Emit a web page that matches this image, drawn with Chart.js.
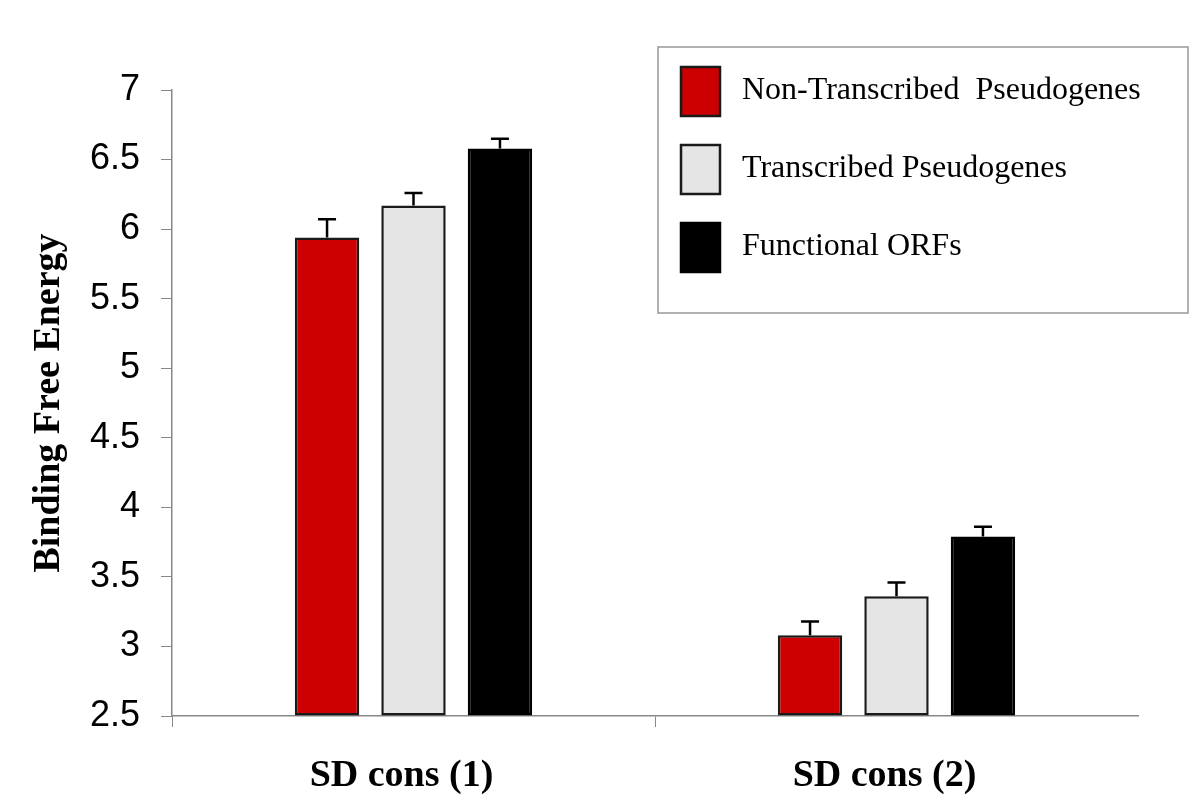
<!DOCTYPE html>
<html>
<head>
    <meta charset="UTF-8">
    <title>Binding Free Energy</title>
    <script src="https://cdn.jsdelivr.net/npm/chart.js"></script>
    <style>
        body { margin: 0; background: #fff; }
        #wrap { width: 1200px; height: 808px; }
    </style>
</head>
<body>
<div id="wrap">
    <canvas id="energyChart" width="1200" height="808"></canvas>
</div>

<script>
    // Datos
    const categories = ['SD cons (1)', 'SD cons (2)'];
    const seriesLabels = ['Non-Transcribed  Pseudogenes', 'Transcribed Pseudogenes', 'Functional ORFs'];
    const nonTranscribed = [5.94, 3.08];
    const transcribed = [6.17, 3.36];
    const functionalOrfs = [6.58, 3.79];
    // error bars (upper half only)
    const nonTranscribedErr = [0.13, 0.10];
    const transcribedErr = [0.09, 0.10];
    const functionalOrfsErr = [0.07, 0.07];
    const yMin = 2.5, yMax = 7, yStep = 0.5;

    const errors = [nonTranscribedErr, transcribedErr, functionalOrfsErr];

    // draws the upper error whiskers on top of each bar
    const errorBars = {
        id: 'errorBars',
        afterDatasetsDraw(chart) {
            const ctx = chart.ctx;
            const y = chart.scales.y;
            ctx.save();
            ctx.strokeStyle = '#000';
            ctx.lineWidth = 2.5;
            chart.data.datasets.forEach((ds, i) => {
                chart.getDatasetMeta(i).data.forEach((bar, j) => {
                    const top = y.getPixelForValue(ds.data[j] + errors[i][j]);
                    ctx.beginPath();
                    ctx.moveTo(bar.x, bar.y);
                    ctx.lineTo(bar.x, top);
                    ctx.moveTo(bar.x - 9, top);
                    ctx.lineTo(bar.x + 9, top);
                    ctx.stroke();
                });
            });
            ctx.restore();
        }
    };

    // legend in a framed box, top right
    const boxLegend = {
        id: 'boxLegend',
        afterDraw(chart) {
            const ctx = chart.ctx;
            ctx.save();
            ctx.strokeStyle = '#999';
            ctx.lineWidth = 1.5;
            ctx.strokeRect(658, 47, 530, 266);
            ctx.font = '32px "Liberation Serif", "Times New Roman", serif';
            ctx.textBaseline = 'middle';
            chart.data.datasets.forEach((ds, i) => {
                const top = 67 + i * 78;
                ctx.fillStyle = ds.backgroundColor;
                ctx.fillRect(681, top, 39, 49);
                ctx.strokeStyle = ds.borderColor;
                ctx.lineWidth = 2.5;
                ctx.strokeRect(681, top, 39, 49);
                ctx.fillStyle = '#000';
                ctx.fillText(ds.label, 742, top + 24);
            });
            ctx.restore();
        }
    };

    const ctx = document.getElementById('energyChart').getContext('2d');
    new Chart(ctx, {
        type: 'bar',
        data: {
            labels: categories,
            datasets: [
                { label: seriesLabels[0], data: nonTranscribed, backgroundColor: '#CC0000', borderColor: '#1a1a1a' },
                { label: seriesLabels[1], data: transcribed, backgroundColor: '#E5E5E5', borderColor: '#1a1a1a' },
                { label: seriesLabels[2], data: functionalOrfs, backgroundColor: '#000000', borderColor: '#000000' }
            ]
        },
        options: {
            responsive: false,
            devicePixelRatio: 1,
            animation: false,
            layout: { padding: { top: 90, right: 62, left: 0, bottom: 0 } },
            datasets: {
                bar: {
                    base: yMin,
                    borderWidth: 2.5,
                    borderSkipped: false,
                    categoryPercentage: 0.537,
                    barPercentage: 0.745
                }
            },
            plugins: {
                legend: { display: false },
                tooltip: { enabled: false }
            },
            scales: {
                x: {
                    afterFit(scale) { scale.height = 92; },
                    grid: {
                        drawOnChartArea: false,
                        tickLength: 11,
                        color: c => c.tick ? '#888' : 'rgba(0,0,0,0)'
                    },
                    border: { color: '#888', width: 1.5 },
                    ticks: {
                        color: '#000',
                        padding: 26,
                        labelOffset: -12,
                        maxRotation: 0,
                        font: { family: '"Liberation Serif", "Times New Roman", serif', size: 38, weight: 'bold' }
                    }
                },
                y: {
                    min: yMin,
                    max: yMax,
                    afterFit(scale) {
                        scale.width = 172;
                        scale.paddingTop = 0;
                        scale.paddingBottom = 0;
                    },
                    grid: { drawOnChartArea: false, tickLength: 11, color: '#888' },
                    border: { color: '#888', width: 1.5 },
                    ticks: {
                        stepSize: yStep,
                        color: '#000',
                        padding: 21,
                        font: { family: '"Liberation Sans", Arial, sans-serif', size: 36 },
                        callback: v => String(v)
                    },
                    title: {
                        display: true,
                        text: 'Binding Free Energy',
                        color: '#000',
                        padding: { top: 26 },
                        font: { family: '"Liberation Serif", "Times New Roman", serif', size: 38, weight: 'bold' }
                    }
                }
            }
        },
        plugins: [errorBars, boxLegend]
    });
</script>
</body>
</html>
